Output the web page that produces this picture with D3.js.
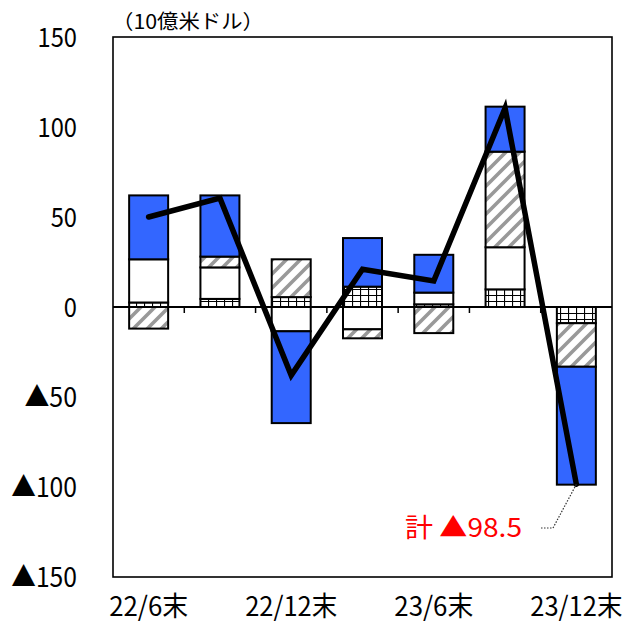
<!DOCTYPE html>
<html><head><meta charset="utf-8">
<script src="https://cdn.jsdelivr.net/npm/d3@7"></script>
<style>body{margin:0;background:#fff}svg{display:block}</style>
</head><body>
<svg id="chart" width="630" height="624"></svg>
<script>
// ---- data ----
const categories = ["22/6末","22/9末","22/12末","23/3末","23/6末","23/9末","23/12末"];
const xTickLabels = ["22/6末","","22/12末","","23/6末","","23/12末"];
const gridSeries  = [2.5, 4.5, 5.5, 11.3, 1.5, 9.8, -9];
const whiteSeries = [24, 17.5, -13.5, -12.4, 6.5, 23.4, 0];
const hatchSeries = [-12, 6, 21, -5, -14.5, 53.1, -24.2];
const blueSeries  = [35.5, 34, -51, 27, 21, 25, -65.5];
const totals      = [50, 60.5, -38, 21, 14.5, 110.5, -98.5];
const yTicks      = [150, 100, 50, 0, -50, -100, -150];
const unitLabel   = "（10億米ドル）";
const noteLabel   = "計 ▲98.5";

// ---- layout ----
const svg = d3.select("#chart");
const L = 113, R = 612, T = 37, B = 577;
const FONT = "'Noto Sans CJK JP','Noto Sans CJK SC',sans-serif";
const fs = 27, unit = 26.3;
const textW = (s, u) => Array.from(s).reduce((a, c) => a + (c.charCodeAt(0) < 128 ? 0.5 : 1) * u, 0);

const x = d3.scaleBand().domain(d3.range(categories.length)).range([L, R]).paddingInner(0.453).paddingOuter(0.2265);
const y = d3.scaleLinear().domain([-150, 150]).range([B, T]);

// ---- patterns ----
const defs = svg.append("defs");
const hp = defs.append("pattern").attr("id", "hatch").attr("patternUnits", "userSpaceOnUse")
  .attr("width", 14).attr("height", 14);
hp.append("rect").attr("width", 14).attr("height", 14).attr("fill", "#fff");
hp.append("path").attr("d", "M-2,2 L2,-2 M0,14 L14,0 M12,16 L16,12")
  .attr("stroke", "#999").attr("stroke-width", 3.6);
const gp = defs.append("pattern").attr("id", "gridp").attr("patternUnits", "userSpaceOnUse")
  .attr("width", 8).attr("height", 6).attr("x", 0).attr("y", y(0));
gp.append("rect").attr("width", 8).attr("height", 6).attr("fill", "#fff");
gp.append("path").attr("d", "M0,0 H8 M0,0 V6").attr("stroke", "#000").attr("stroke-width", 2.2);

// ---- stack ----
const keys = ["grid", "white", "hatch", "blue"];
const fills = {grid: "url(#gridp)", white: "#fff", hatch: "url(#hatch)", blue: "#3366ff"};
const rows = categories.map((c, i) => ({grid: gridSeries[i], white: whiteSeries[i], hatch: hatchSeries[i], blue: blueSeries[i]}));
const stacked = d3.stack().keys(keys).offset(d3.stackOffsetDiverging)(rows);

// frame
svg.append("rect").attr("x", L).attr("y", T).attr("width", R - L).attr("height", B - T)
  .attr("fill", "#fff").attr("stroke", "#000").attr("stroke-width", 1.6);

// bars
stacked.forEach(s => {
  svg.append("g").selectAll("rect").data(s.map((d, i) => ({d, i})).filter(o => o.d[1] !== o.d[0]))
    .join("rect")
    .attr("x", o => x(o.i)).attr("width", x.bandwidth())
    .attr("y", o => y(Math.max(o.d[0], o.d[1])))
    .attr("height", o => Math.abs(y(o.d[0]) - y(o.d[1])))
    .attr("fill", fills[s.key]).attr("stroke", "#000").attr("stroke-width", 2);
});

// zero line + ticks
svg.append("line").attr("x1", L).attr("x2", R).attr("y1", y(0)).attr("y2", y(0))
  .attr("stroke", "#000").attr("stroke-width", 2);
const step = x.step();
d3.range(1, categories.length).forEach(i => {
  const bx = x(i) - (step - x.bandwidth()) / 2;
  svg.append("line").attr("x1", bx).attr("x2", bx).attr("y1", y(0)).attr("y2", y(0) + 6)
    .attr("stroke", "#000").attr("stroke-width", 1.5);
});

// total line
const line = d3.line().x((d, i) => x(i) + x.bandwidth() / 2).y(d => y(d));
svg.append("path").attr("d", line(totals)).attr("fill", "none")
  .attr("stroke", "#000").attr("stroke-width", 5.5).attr("stroke-linecap", "round").attr("stroke-linejoin", "miter");

// y tick labels
yTicks.forEach(v => {
  const s = v < 0 ? "▲" + Math.abs(v) : String(v);
  svg.append("text").attr("x", 77).attr("y", y(v) + 10).attr("text-anchor", "end")
    .attr("font-family", FONT).attr("font-size", fs).attr("fill", "#000")
    .attr("textLength", textW(s, unit)).attr("lengthAdjust", "spacingAndGlyphs").text(s);
});

// x tick labels
xTickLabels.forEach((s, i) => {
  if (!s) return;
  svg.append("text").attr("x", x(i) + x.bandwidth() / 2).attr("y", 616).attr("text-anchor", "middle")
    .attr("font-family", FONT).attr("font-size", fs).attr("fill", "#000")
    .attr("textLength", textW(s, unit)).attr("lengthAdjust", "spacingAndGlyphs").text(s);
});

// unit label
svg.append("text").attr("x", 112).attr("y", 29)
  .attr("font-family", FONT).attr("font-size", 20).attr("fill", "#000")
  .attr("textLength", 152).attr("lengthAdjust", "spacingAndGlyphs").text(unitLabel);

// annotation
const last = categories.length - 1;
const ax = x(last) + x.bandwidth() / 2, ay = y(totals[last]);
svg.append("path").attr("d", `M541,528 H553 L${ax},${ay}`).attr("fill", "none")
  .attr("stroke", "#333").attr("stroke-width", 1.2).attr("stroke-dasharray", "1.5,1.5");
svg.append("text").attr("x", 405).attr("y", 537)
  .attr("font-family", FONT).attr("font-size", 26).attr("fill", "#ff0000")
  .attr("textLength", 117).attr("lengthAdjust", "spacingAndGlyphs").text(noteLabel);
</script>
</body></html>
